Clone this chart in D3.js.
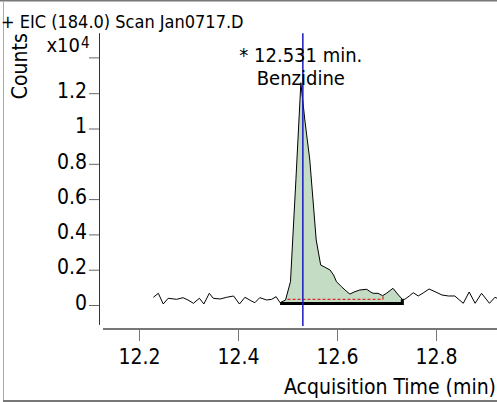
<!DOCTYPE html>
<html><head><meta charset="utf-8">
<script src="https://cdn.jsdelivr.net/npm/d3@7"></script>
<style>
body{margin:0;background:#fff}
svg{display:block}
text{font-family:"DejaVu Sans Condensed","DejaVu Sans",sans-serif;fill:#000}
</style>
</head><body><svg id="c" width="497" height="402"></svg>
<script>
const times = [12.229,12.239,12.249,12.259,12.276,12.289,12.299,12.310,12.322,12.331,12.342,12.350,12.364,12.377,12.391,12.403,12.414,12.426,12.434,12.444,12.458,12.468,12.477,12.485,12.496,12.506,12.517,12.527,12.535,12.545,12.558,12.567,12.576,12.586,12.593,12.599,12.609,12.620,12.626,12.636,12.646,12.660,12.667,12.673,12.683,12.692,12.700,12.713,12.724,12.732,12.737,12.746,12.754,12.764,12.774,12.786,12.798,12.812,12.825,12.838,12.855,12.867,12.879,12.892,12.908,12.919,12.930];
const counts = [436,663,57,380,323,414,283,96,380,57,663,380,340,436,510,57,436,244,130,414,283,323,470,130,283,1320,7100,12595,10482,8215,3683,2266,2136,1983,1700,1320,1037,754,623,754,850,890,754,663,663,527,663,946,567,323,323,510,697,510,680,906,754,567,510,510,96,737,96,663,96,436,300];
const yTicks = [0,2000,4000,6000,8000,10000,12000];
const yTickLabels = ["0","0.2","0.4","0.6","0.8","1","1.2"];
const yTopTick = 14000;
const xTicks = [12.2,12.4,12.6,12.8];
const xTickLabels = ["12.2","12.4","12.6","12.8"];
const titleText = "+ EIC (184.0) Scan Jan0717.D";
const yTitle = "Counts";
const xTitle = "Acquisition Time (min)";
const peakRT = 12.531;
const peakLabel = "* 12.531 min.";
const compound = "Benzidine";
const integStart = 12.485, integEnd = 12.732, integBase = 85;
const blStart = 12.500, blEnd = 12.693, blLevel = 323;

const data = times.map((t,i)=>({t, c:counts[i]}));
const svg = d3.select("#c");
const W = 497, H = 402;

const x = d3.scaleLinear().domain([12.1192, 12.9232]).range([99, 497]);
const y = d3.scaleLinear().domain([0, 14000]).range([305, 57.9]);
const yExt = [-1130, 15400];

// frame
svg.append("line").attr("x1",0).attr("x2",W).attr("y1",0.5).attr("y2",0.5).attr("stroke","#777").attr("stroke-width",2);
svg.append("line").attr("x1",3.5).attr("x2",3.5).attr("y1",2).attr("y2",H-1).attr("stroke","#aaa").attr("stroke-width",1);
svg.append("line").attr("x1",3).attr("x2",W).attr("y1",H-1).attr("y2",H-1).attr("stroke","#777").attr("stroke-width",2);

// title
svg.append("text").attr("x",1).attr("y",28).attr("font-size",18).text(titleText);

// y axis
const yAxis = d3.axisLeft(y).tickValues(yTicks).tickFormat((d,i)=>yTickLabels[i]).tickSize(10).tickPadding(2);
const gy = svg.append("g").attr("transform","translate(99,0)").call(yAxis);
gy.select(".domain").remove();
gy.selectAll(".tick line").attr("stroke","#666");
gy.selectAll(".tick text").attr("font-size",21).attr("font-family",null).attr("dy","0.2em");
gy.append("line").attr("x1",0.5).attr("x2",0.5).attr("y1",y(yExt[1])).attr("y2",y(yExt[0])).attr("stroke","#333");
gy.append("line").attr("x1",-10).attr("x2",0).attr("y1",y(yTopTick)).attr("y2",y(yTopTick)).attr("stroke","#666");
gy.append("text").attr("x",-19).attr("y",y(yTopTick)-6).attr("text-anchor","end").attr("font-size",20).text("x10");
svg.append("text").attr("x",81).attr("y",y(yTopTick)-10).attr("font-size",15).text("4");

svg.append("text").attr("transform",`translate(27,${y(yExt[1])+33}) rotate(-90)`).attr("text-anchor","middle").attr("font-size",21).text(yTitle);

// x axis
const xAxis = d3.axisBottom(x).tickValues(xTicks).tickFormat((d,i)=>xTickLabels[i]).tickSize(12).tickPadding(8);
const gx = svg.append("g").attr("transform","translate(0,329)").call(xAxis);
gx.select(".domain").remove();
gx.append("line").attr("x1",103).attr("x2",W).attr("y1",0).attr("y2",0).attr("stroke","#777").attr("stroke-width",2);
gx.selectAll(".tick line").attr("stroke","#777");
gx.selectAll(".tick text").attr("font-size",21).attr("font-family",null);

svg.append("text").attr("x",W-1).attr("y",394).attr("text-anchor","end").attr("font-size",21).text(xTitle);

// integrated area
const inPeak = data.filter(d=>d.t>=integStart && d.t<=integEnd);
const area = d3.area().x(d=>x(d.t)).y0(y(integBase)).y1(d=>y(d.c));
svg.append("path").datum(inPeak).attr("d",area).attr("fill","#c3dcc3");

// baseline dashed
svg.append("line").attr("x1",x(blStart)).attr("x2",x(blEnd)).attr("y1",y(blLevel)).attr("y2",y(blLevel))
  .attr("stroke","#e00000").attr("stroke-dasharray","3,2").attr("stroke-width",1);
svg.append("line").attr("x1",x(blEnd)).attr("x2",x(blEnd)).attr("y1",y(blLevel)).attr("y2",y(blLevel)-3)
  .attr("stroke","#e00000").attr("stroke-width",1);

// trace
const line = d3.line().x(d=>x(d.t)).y(d=>y(d.c));
svg.append("path").datum(data).attr("d",line).attr("fill","none").attr("stroke","#000").attr("stroke-width",1);

// integration bounds (thick)
const endPt = inPeak[inPeak.length-1];
svg.append("path")
  .attr("d",`M${x(endPt.t)},${y(endPt.c)}L${x(integEnd)},${y(integBase)}L${x(integStart)},${y(integBase)}`)
  .attr("fill","none").attr("stroke","#000").attr("stroke-width",3);

// RT marker
svg.append("line").attr("x1",x(peakRT)).attr("x2",x(peakRT)).attr("y1",y(yExt[1])).attr("y2",y(yExt[0])+1)
  .attr("stroke","#1a1ac0").attr("stroke-width",1.5);

// annotations
svg.append("text").attr("x",x(peakRT)-2).attr("y",62).attr("text-anchor","middle").attr("font-size",20).text(peakLabel);
svg.append("text").attr("x",x(peakRT)-2).attr("y",85).attr("text-anchor","middle").attr("font-size",20).text(compound);
</script>
</body></html>
